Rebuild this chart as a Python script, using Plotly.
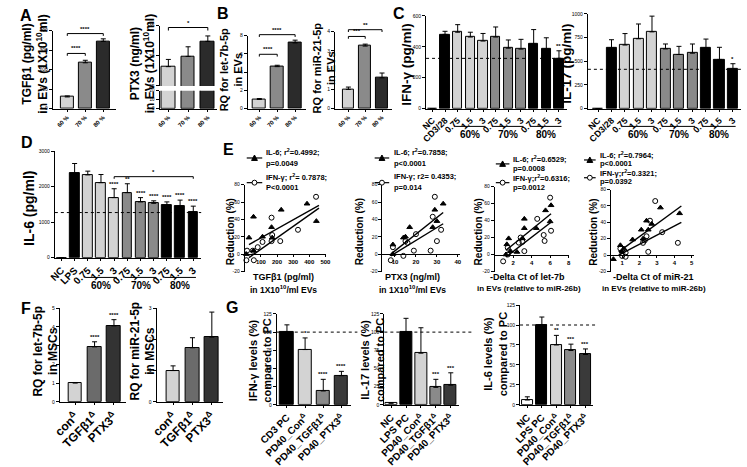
import plotly.graph_objects as go

W, H = 747, 467
FONT = 'Liberation Sans, Arial, sans-serif'

# ---------------- data ----------------
# A / B : EV cargo at 60/70/80 % confluence
conf_labels = ['60 %', '70 %', '80 %']
tgfb1_ev = [60, 235, 345]
tgfb1_ev_err = [5, 13, 13]
ptx3_ev = [28.2, 29.9, 32.4]
ptx3_ev_err = [1.2, 1.6, 0.9]
let7b_ev = [1.0, 4.6, 7.2]
let7b_ev_err = [0.1, 0.15, 0.3]
mir21_ev = [1.0, 3.25, 1.6]
mir21_ev_err = [0.12, 0.1, 0.25]

# C : T cell cytokines
tcell_labels = ['NC', 'CD3/28', '0.75', '1.5', '3', '0.75', '1.5', '3', '0.75', '1.5', '3']
ifng = [0, 480, 494, 463, 437, 463, 391, 385, 418, 385, 325]
ifng_err = [0, 20, 49, 31, 49, 65, 53, 63, 93, 73, 49]
ifng_stars = ['', '', '', '', '', '', '', '', '', '', '**']
ifng_ref = 325
il17 = [0, 637, 671, 737, 810, 630, 571, 585, 640, 519, 415]
il17_err = [0, 90, 121, 156, 166, 52, 86, 97, 94, 128, 59]
il17_stars = ['', '', '', '', '', '', '', '', '', '', '*']
il17_ref = 415

# D : macrophage IL-6
mac_labels = ['NC', 'LPS', '0.75', '1.5', '3', '0.75', '1.5', '3', '0.75', '1.5', '3']
il6 = [0, 2370, 2330, 2110, 1690, 1830, 1570, 1530, 1470, 1450, 1280]
il6_err = [0, 280, 105, 230, 250, 250, 120, 70, 100, 170, 170]
il6_stars = ['', '', '', '', '****', '**', '****', '****', '****', '****', '****']
il6_ref = 1270
conf_groups = ['60%', '70%', '80%']

# E : correlations (reduction %)
e1_il6_x = [10, 26, 54, 54, 110, 166, 170, 226, 386, 444]
e1_il6_y = [0, 19, 43, 4, 20, 31, 19, 51, 58, 38]
e1_ifn_x = [10, 14, 50, 56, 80, 110, 166, 166, 170, 220, 330, 442]
e1_ifn_y = [-7, 4, 4, -7, 8, 14, 42, 15, 22, 15, 28, 66]
e1_fit_x = [26, 460]
e1_il6_fit = [11, 56]
e1_ifn_fit = [-4, 53]

e2_il6_x = [9, 9, 14, 15, 17, 28, 29, 30, 33]
e2_il6_y = [0, 11, 19, 20, 31, 31, 51, 38, 58]
e2_ifn_x = [8, 9, 14, 15, 16, 19, 20, 27, 28, 29, 30, 32]
e2_ifn_y = [-7, 8, -2, 15, 13, 4, 23, 4, 43, 66, 15, 28]
e2_fit_x = [8, 33]
e2_il6_fit = [0, 48]
e2_ifn_fit = [-2, 35]

e3_il6_x = [1.2, 1.3, 1.5, 1.7, 2.4, 3.0, 3.2, 3.2, 4.5, 5.5, 6.0, 6.1]
e3_il6_y = [0, 12, 19, 4, 3, 19, 31, 42, 31, 52, 39, 58]
e3_ifn_x = [0.9, 1.4, 1.4, 2.6, 2.8, 3.0, 3.2, 4.6, 5.3, 5.4, 6.0, 6.1]
e3_ifn_y = [-8, 0, 8, 14, 20, 15, 4, 42, 23, 16, 67, 28]
e3_fit_x = [1.2, 6.1]
e3_il6_fit = [5, 48]
e3_ifn_fit = [-3, 38]

e4_il6_x = [0.5, 0.9, 1.0, 1.1, 1.6, 2.1, 2.2, 2.4, 2.5, 2.7, 3.2, 4.3]
e4_il6_y = [-5, 12, 4, 8, 19, 31, 20, 42, 31, 38, 58, 51]
e4_ifn_x = [0.9, 1.0, 1.2, 1.2, 2.2, 2.3, 2.4, 2.5, 2.6, 2.9, 3.3, 4.2]
e4_ifn_y = [8, -1, 3, -2, 15, 18, 23, 4, 42, 66, 28, 15]
e4_fit_x = [0.8, 4.4]
e4_il6_fit = [4, 60]
e4_ifn_fit = [0, 40]

# F : miRNA in MSCs
msc_labels = ['con<sup>Δ</sup>', 'TGFβ1<sup>Δ</sup>', 'PTX3<sup>Δ</sup>']
let7b_msc = [1.0, 2.93, 4.05]
let7b_msc_err = [0.03, 0.27, 0.33]
let7b_msc_stars = ['', '****', '****']
mir21_msc = [1.0, 1.73, 2.07]
mir21_msc_err = [0.15, 0.32, 0.8]

# G : cytokines relative to positive control
g1_labels = ['CD3 PC', 'PD40_Con<sup>Δ</sup>', 'PD40_TGFβ1<sup>Δ</sup>', 'PD40_PTX3<sup>Δ</sup>']
ifng_pc = [100, 76, 19, 40]
ifng_pc_err = [10, 16, 16, 6]
ifng_pc_stars = ['', '*', '****', '****']
g2_labels = ['NC', 'LPS PC', 'PD40_Con<sup>Δ</sup>', 'PD40_TGFβ1<sup>Δ</sup>', 'PD40_PTX3<sup>Δ</sup>']
il17_pc = [2, 100, 71, 24, 27]
il17_pc_err = [1, 19, 35, 11, 17]
il17_pc_stars = ['', '', '', '***', '***']
il6_pc = [6, 100, 75, 68, 63]
il6_pc_err = [4, 10, 12, 8, 7]
il6_pc_stars = ['', '', '**', '***', '***']

LIGHT, MID, DARK, BLACK = '#d3d3d3', '#8a8a8a', '#2b2b2b', '#000000'

# ---------------- helpers ----------------
fig = go.Figure()
shapes, annos = [], []
count = [0]


def dom(r, v):
    return (v - r[0]) / (r[1] - r[0])


def make_axes(box, xr, yr, yticks, xticks=None, xtext=None, xsize=9, ysize=5,
              xangle=-45, xline=True, zero_x=False):
    x0, x1, y0, y1 = box
    count[0] += 1
    k = '' if count[0] == 1 else str(count[0])
    xa = dict(domain=[x0 / W, x1 / W], range=xr, anchor='y' + k, showline=xline,
              linecolor='black', linewidth=1, showgrid=False, zeroline=False,
              ticks='outside' if xline else '', ticklen=2, tickcolor='black',
              showticklabels=xticks is not None,
              tickfont=dict(size=xsize, weight='bold'))
    if xticks is not None:
        xa.update(tickmode='array', tickvals=xticks, tickangle=xangle)
        if xtext is not None:
            xa.update(ticktext=xtext)
    if zero_x:
        p0 = y1 - dom(yr, 0) * (y1 - y0)
        xa.update(anchor='free', position=1 - p0 / H)
    ya = dict(domain=[1 - y1 / H, 1 - y0 / H], range=yr, anchor='x' + k,
              showline=True, linecolor='black', linewidth=1, showgrid=False,
              zeroline=False, ticks='outside', ticklen=3, tickcolor='black',
              tickmode='array', tickvals=yticks, ticktext=[str(v) for v in yticks],
              showticklabels=True, tickangle=0,
              tickfont=dict(size=ysize, color='black'))
    fig.update_layout({'xaxis' + k: xa, 'yaxis' + k: ya})
    return dict(x='x' + k, y='y' + k, xr=xr, yr=yr)


def add_bars(ax, vals, errs, colors, width=0.7, with_err=True):
    n = len(vals)
    t = go.Bar(x=list(range(n)), y=vals, width=width, xaxis=ax['x'], yaxis=ax['y'],
               marker=dict(color=colors, line=dict(color='black', width=1)))
    if with_err:
        t.error_y = dict(type='data', symmetric=False, array=errs, arrayminus=[0] * n,
                         color='black', thickness=1, width=2.5)
    fig.add_trace(t)


def note(ax, x, y, text, size=6, yanchor='bottom'):
    annos.append(dict(xref=ax['x'] + ' domain', yref=ax['y'] + ' domain', x=x, y=y,
                      text=text, showarrow=False, xanchor='center', yanchor=yanchor,
                      font=dict(size=size, weight='bold')))


def add_stars(ax, vals, errs, stars, size=6):
    for i, s in enumerate(stars):
        if s:
            note(ax, dom(ax['xr'], i), dom(ax['yr'], vals[i] + errs[i]), s, size)


def seg(ax, xa, ya, xb, yb, dash='solid'):
    shapes.append(dict(type='line', xref=ax['x'] + ' domain', yref=ax['y'] + ' domain',
                       x0=xa, y0=ya, x1=xb, y1=yb,
                       line=dict(color='black', width=1, dash=dash)))


def add_bracket(ax, i0, i1, yv, drop, text, size=6):
    xa, xb = dom(ax['xr'], i0), dom(ax['xr'], i1)
    yt, yb = dom(ax['yr'], yv), dom(ax['yr'], yv - drop)
    seg(ax, xa, yb, xa, yt)
    seg(ax, xa, yt, xb, yt)
    seg(ax, xb, yt, xb, yb)
    note(ax, (xa + xb) / 2, yt, text, size)


def add_ref(ax, yv, x_end=1.0):
    y = dom(ax['yr'], yv)
    seg(ax, 0, y, x_end, y, dash='dot')


def add_groups(ax, groups, i_first, y_line, y_text, size=10):
    for g, name in enumerate(groups):
        a = i_first + 3 * g
        b = a + 2
        shapes.append(dict(type='line', xref=ax['x'] + ' domain', yref='paper',
                           x0=dom(ax['xr'], a - 0.2), x1=dom(ax['xr'], b + 0.2),
                           y0=1 - y_line / H, y1=1 - y_line / H,
                           line=dict(color='black', width=1)))
        annos.append(dict(xref=ax['x'] + ' domain', yref='paper',
                          x=dom(ax['xr'], (a + b) / 2), y=1 - y_text / H, text=name,
                          showarrow=False, xanchor='center', yanchor='middle',
                          font=dict(size=size, weight='bold')))


def add_scatter(ax, xs, ys, symbol):
    fig.add_trace(go.Scatter(x=xs, y=ys, mode='markers', xaxis=ax['x'], yaxis=ax['y'],
                             cliponaxis=False,
                             marker=dict(symbol=symbol, size=5, color='black',
                                         line=dict(color='black', width=1))))


def add_fit(ax, xs, ys):
    fig.add_trace(go.Scatter(x=xs, y=ys, mode='lines', xaxis=ax['x'], yaxis=ax['y'],
                             line=dict(color='black', width=1.4)))


def text_px(x, y, t, size, angle=0, anchor='center'):
    annos.append(dict(xref='paper', yref='paper', x=x / W, y=1 - y / H, text=t,
                      showarrow=False, textangle=angle, xanchor=anchor, yanchor='middle',
                      font=dict(size=size, weight='bold')))


def legend_e(x_sym0, x_sym1, x_txt, rows, sym_rows, texts, size=7.5):
    for yy, t in zip(rows, texts):
        text_px(x_txt, yy, t, size, anchor='left')
    cx = (x_sym0 + x_sym1) / 2
    for k, yy in enumerate(sym_rows):
        shapes.append(dict(type='line', xref='paper', yref='paper',
                           x0=x_sym0 / W, x1=x_sym1 / W, y0=1 - yy / H, y1=1 - yy / H,
                           line=dict(color='black', width=1.2)))
        if k == 0:
            p = [(cx, yy - 3), (cx - 3, yy + 2.5), (cx + 3, yy + 2.5)]
            path = 'M' + ' L'.join(f'{a / W},{1 - b / H}' for a, b in p) + ' Z'
            shapes.append(dict(type='path', xref='paper', yref='paper', path=path,
                               fillcolor='black', line=dict(color='black', width=1)))
        else:
            shapes.append(dict(type='circle', xref='paper', yref='paper',
                               x0=(cx - 2.5) / W, x1=(cx + 2.5) / W,
                               y0=1 - (yy + 2.5) / H, y1=1 - (yy - 2.5) / H,
                               fillcolor='white', line=dict(color='black', width=1)))


conf_colors = [LIGHT, MID, DARK]
tc_colors = ['white', BLACK, LIGHT, LIGHT, LIGHT, MID, MID, MID, BLACK, BLACK, BLACK]
idx3 = [0, 1, 2]

# ---------------- A ----------------
axA1 = make_axes((36, 101, 28, 107), [-0.8, 2.7], [0, 400], [0, 100, 200, 300, 400],
                 idx3, conf_labels, xsize=6)
add_bars(axA1, tgfb1_ev, tgfb1_ev_err, conf_colors)
add_bracket(axA1, 0, 1, 283, 12, '****')
add_bracket(axA1, 0, 2, 385, 12, '****')

axA2t = make_axes((146, 205, 23, 84), [-0.45, 2.45], [25, 35], [25, 30, 35], xline=False)
add_bars(axA2t, ptx3_ev, ptx3_ev_err, conf_colors)
add_bracket(axA2t, 0, 2, 34.7, 0.5, '*')
axA2b = make_axes((146, 205, 89, 107), [-0.45, 2.45], [0, 20], [0, 10, 20],
                  idx3, conf_labels, xsize=6, ysize=4.5)
add_bars(axA2b, ptx3_ev, ptx3_ev_err, conf_colors, with_err=False)

# ---------------- B ----------------
axB1 = make_axes((237, 297, 33, 107), [-0.65, 2.6], [0, 8], [0, 2, 4, 6, 8],
                 idx3, conf_labels, xsize=6)
add_bars(axB1, let7b_ev, let7b_ev_err, conf_colors)
add_bracket(axB1, 0, 1, 5.95, 0.25, '****')
add_bracket(axB1, 0, 2, 8.1, 0.25, '****')

axB2 = make_axes((327, 386, 29, 107), [-0.8, 2.6], [0, 4], [0, 1, 2, 3, 4],
                 idx3, conf_labels, xsize=6)
add_bars(axB2, mir21_ev, mir21_ev_err, conf_colors)
add_bracket(axB2, 0, 1, 3.75, 0.12, '***')
add_bracket(axB2, 0, 2, 4.1, 0.12, '**')

# ---------------- C ----------------
idx11 = list(range(11))
axC1 = make_axes((421, 566, 13, 107), [-0.5, 10.6], [0, 600], [0, 200, 400, 600],
                 idx11, tcell_labels, xsize=9)
add_bars(axC1, ifng, ifng_err, tc_colors, width=0.75)
add_ref(axC1, ifng_ref)
add_stars(axC1, ifng, ifng_err, ifng_stars)
add_groups(axC1, conf_groups, 2, 125, 133)

axC2 = make_axes((588, 746, 11, 107), [-0.75, 10.6], [0, 1000], [0, 250, 500, 750, 1000],
                 idx11, tcell_labels, xsize=9)
add_bars(axC2, il17, il17_err, tc_colors, width=0.75)
add_ref(axC2, il17_ref)
add_stars(axC2, il17, il17_err, il17_stars)
add_groups(axC2, conf_groups, 2, 125, 133)

# ---------------- D ----------------
axD = make_axes((38, 189, 150, 258), [-0.5, 10.6], [0, 3000], [0, 1000, 2000, 3000],
                idx11, mac_labels, xsize=10)
add_bars(axD, il6, il6_err, tc_colors, width=0.75)
add_ref(axD, il6_ref)
add_stars(axD, il6, il6_err, il6_stars)
add_bracket(axD, 4, 10, 2280, 60, '*')
add_groups(axD, conf_groups, 2, 278, 286)

# ---------------- E ----------------
ey = [-20, 0, 20, 40, 60, 80]
axE1 = make_axes((234, 318, 184, 272), [0, 505], [-20, 80], ey,
                 [100, 200, 300, 400, 500], None, xsize=6, xangle=0, zero_x=True)
add_fit(axE1, e1_fit_x, e1_il6_fit)
add_fit(axE1, e1_fit_x, e1_ifn_fit)
add_scatter(axE1, e1_il6_x, e1_il6_y, 'triangle-up')
add_scatter(axE1, e1_ifn_x, e1_ifn_y, 'circle-open')

axE2 = make_axes((376, 456, 184, 272), [4, 41], [-20, 80], ey,
                 [10, 20, 30, 40], None, xsize=6, xangle=0, zero_x=True)
add_fit(axE2, e2_fit_x, e2_il6_fit)
add_fit(axE2, e2_fit_x, e2_ifn_fit)
add_scatter(axE2, e2_il6_x, e2_il6_y, 'triangle-up')
add_scatter(axE2, e2_ifn_x, e2_ifn_y, 'circle-open')

axE3 = make_axes((492, 569, 186, 272), [0, 8.1], [-20, 80], ey,
                 [2, 4, 6, 8], None, xsize=6, xangle=0, zero_x=True)
add_fit(axE3, e3_fit_x, e3_il6_fit)
add_fit(axE3, e3_fit_x, e3_ifn_fit)
add_scatter(axE3, e3_il6_x, e3_il6_y, 'triangle-up')
add_scatter(axE3, e3_ifn_x, e3_ifn_y, 'circle-open')

axE4 = make_axes((612, 697, 189, 272), [0.37, 5.1], [-20, 80], ey,
                 [1, 2, 3, 4, 5], None, xsize=6, xangle=0, zero_x=True)
add_fit(axE4, e4_fit_x, e4_il6_fit)
add_fit(axE4, e4_fit_x, e4_ifn_fit)
add_scatter(axE4, e4_il6_x, e4_il6_y, 'triangle-up')
add_scatter(axE4, e4_ifn_x, e4_ifn_y, 'circle-open')

legend_e(236, 252, 254, [151, 163, 176, 187], [157, 182],
         ['IL-6; r<sup>2</sup>=0.4992;', 'p=0.0049', 'IFN-γ; r<sup>2</sup>= 0.7878;', 'P<0.0001'])
legend_e(368, 383, 386, [151, 163, 176, 187], [157, 182],
         ['IL-6; r<sup>2</sup>=0.7858;', 'p<0.0001', 'IFN-γ; r2= 0.4353;', 'p=0.014'])
legend_e(493, 507, 509, [158, 168, 177, 187], [163, 182],
         ['IL-6; r<sup>2</sup>=0.6529;', 'p=0.0008', 'IFN-γ;r<sup>2</sup>=0.6316;', 'p=0.0012'])
legend_e(584, 596, 598, [154, 163, 172, 181], [159, 177],
         ['IL-6; r<sup>2</sup>=0.7964;', 'p<0.0001', 'IFN-γ;r<sup>2</sup>=0.3321;', 'p=0.0392'])

# ---------------- F ----------------
f_colors = [LIGHT, '#6b6b6b', '#333333']
axF1 = make_axes((43, 111, 309, 404), [-0.8, 2.6], [0, 5], [0, 1, 2, 3, 4, 5],
                 idx3, msc_labels, xsize=12)
add_bars(axF1, let7b_msc, let7b_msc_err, f_colors)
add_stars(axF1, let7b_msc, let7b_msc_err, let7b_msc_stars)
axF2 = make_axes((143, 211, 309, 404), [-0.85, 2.55], [0, 3], [0, 1, 2, 3],
                 idx3, msc_labels, xsize=12)
add_bars(axF2, mir21_msc, mir21_msc_err, f_colors)

# ---------------- G ----------------
axG1 = make_axes((267, 344, 315, 407), [-0.56, 3.55], [0, 125], [0, 25, 50, 75, 100, 125],
                 [0, 1, 2, 3], g1_labels, xsize=10)
add_bars(axG1, ifng_pc, ifng_pc_err, [BLACK, LIGHT, MID, '#3a3a3a'], width=0.75)
add_ref(axG1, 100, x_end=1.08)
add_stars(axG1, ifng_pc, ifng_pc_err, ifng_pc_stars)

g_colors = ['white', BLACK, LIGHT, MID, '#3a3a3a']
axG2 = make_axes((378, 455, 315, 407), [-0.45, 4.55], [0, 125], [0, 25, 50, 75, 100, 125],
                 [0, 1, 2, 3, 4], g2_labels, xsize=10)
add_bars(axG2, il17_pc, il17_pc_err, g_colors, width=0.8)
add_ref(axG2, 100, x_end=1.2)
add_stars(axG2, il17_pc, il17_pc_err, il17_pc_stars)

axG3 = make_axes((518, 593, 306, 407), [-0.5, 4.5], [0, 125], [0, 25, 50, 75, 100, 125],
                 [0, 1, 2, 3, 4], g2_labels, xsize=10)
add_bars(axG3, il6_pc, il6_pc_err, g_colors, width=0.75)
add_ref(axG3, 100, x_end=1.07)
add_stars(axG3, il6_pc, il6_pc_err, il6_pc_stars)

# ---------------- titles & panel letters ----------------
for L, x, y in [('A', 8, 13), ('B', 211, 11), ('C', 393, 11), ('D', 9, 141),
                ('E', 217, 148), ('F', 8, 309), ('G', 221, 308)]:
    text_px(x, y, L, 16)

text_px(18, 62, 'TGFβ1 (pg/ml)<br>in EVs (1X10<sup>10</sup>ml)', 12, angle=-90)
text_px(129, 62, 'PTX3 (ng/ml)<br>in EVs (1X10<sup>10</sup>ml)', 12, angle=-90)
text_px(220, 68, 'RQ for let-7b-5p<br>in EVs', 11, angle=-90)
text_px(316, 66, 'RQ for miR-21-5p<br>in EVs', 11, angle=-90)
text_px(401, 62, 'IFN-γ (pg/ml)', 13.5, angle=-90)
text_px(566, 62, 'IL-17 (pg/ml)', 13.5, angle=-90)
text_px(12, 208, 'IL-6 (pg/ml)', 14, angle=-90)

for x in (219, 352, 475, 593):
    text_px(x, 232, 'Reduction (%)', 10, angle=-90)
text_px(274, 278, 'TGFβ1 (pg/ml)', 9)
text_px(274, 290, 'in 1X10<sup>10</sup>/ml EVs', 8.5)
text_px(407, 278, 'PTX3 (ng/ml)', 9)
text_px(407, 290, 'in 1X10<sup>10</sup>/ml EVs', 8.5)
text_px(526, 278, '-Delta Ct of let-7b', 9)
text_px(527, 289, 'in EVs (relative to miR-26b)', 8)
text_px(656, 278, '-Delta Ct of miR-21', 9)
text_px(656, 289, 'in EVs (relative to miR-26b)', 8)

text_px(29, 353, 'RQ for let-7b-5p<br>in MSCs', 12, angle=-90)
text_px(129, 353, 'RQ for miR-21-5p<br>in MSCs', 12, angle=-90)
text_px(250, 362, 'IFN-γ levels (%)<br>compared to PC', 11, angle=-90)
text_px(366, 362, 'IL-17 levels (%)<br>compared to PC', 11, angle=-90)
text_px(493, 356, 'IL-6 levels (%)<br>compared to PC', 11, angle=-90)

fig.update_layout(width=W, height=H, margin=dict(l=0, r=0, t=0, b=0),
                  paper_bgcolor='white', plot_bgcolor='rgba(0,0,0,0)',
                  showlegend=False, bargap=0,
                  font=dict(family=FONT, color='black'),
                  shapes=shapes, annotations=annos)

# the page body has a default 8px margin; drop it so the figure fills the window
fig.write_html('out.html', config={'displayModeBar': False},
               post_script="document.body.style.margin='0';")
